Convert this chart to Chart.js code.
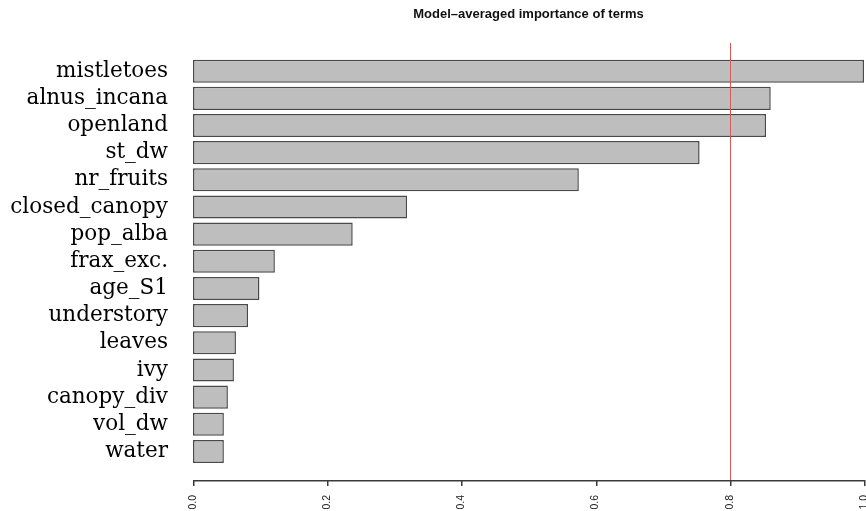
<!DOCTYPE html>
<html>
<head>
<meta charset="utf-8">
<script src="https://cdn.jsdelivr.net/npm/chart.js@4/dist/chart.umd.min.js"></script>
<style>
  html, body { margin: 0; padding: 0; background: #fff; }
  #wrap { width: 866px; height: 511px; }
</style>
</head>
<body>
<div id="wrap"><canvas id="bar-chart"></canvas></div>
<script>
// terms and their model-averaged importance
const terms = ['mistletoes', 'alnus_incana', 'openland', 'st_dw', 'nr_fruits', 'closed_canopy',
    'pop_alba', 'frax_exc.', 'age_S1', 'understory', 'leaves', 'ivy', 'canopy_div', 'vol_dw', 'water'];
const importance = [1.0, 0.861, 0.854, 0.755, 0.575, 0.319, 0.238, 0.122, 0.099, 0.082,
    0.064, 0.061, 0.052, 0.046, 0.046];
const xTicks = [0, 0.2, 0.4, 0.6, 0.8, 1.0];
const threshold = 0.8;

// R style axis set apart below the bars, plus the red cut-off line
const overlay = {
    id: 'overlay',
    afterDraw: function (chart) {
        const ctx = chart.ctx;
        const x = chart.scales.x;
        const axisY = Math.round(chart.chartArea.bottom + 15);
        const x0 = Math.round(x.getPixelForValue(xTicks[0]));
        const x1 = Math.round(x.getPixelForValue(xTicks[xTicks.length - 1]));

        ctx.save();
        ctx.fillStyle = '#3a3a3a';
        // axis line
        ctx.fillRect(x0, axisY, x1 - x0 + 1, 1.5);
        // tick marks
        xTicks.forEach(function (t) {
            const px = Math.round(x.getPixelForValue(t));
            ctx.fillRect(px, axisY, 1.5, 6);
        });

        const rx = Math.round(x.getPixelForValue(threshold));
        ctx.fillStyle = 'rgb(215,90,90)';
        ctx.fillRect(rx, 43, 1, axisY - 43);
        ctx.restore();
    }
};

new Chart(document.getElementById('bar-chart'), {
    type: 'bar',
    data: {
        labels: terms,
        datasets: [{
            data: importance,
            backgroundColor: '#bebebe',
            borderColor: '#4a4a4a',
            borderWidth: 1.5,
            borderSkipped: false,
            barPercentage: 0.85,
            categoryPercentage: 1
        }]
    },
    options: {
        indexAxis: 'y',
        responsive: true,
        maintainAspectRatio: false,
        animation: false,
        layout: { padding: { left: 0, right: 2, top: 0, bottom: 0 } },
        plugins: {
            legend: { display: false },
            tooltip: { enabled: false },
            title: {
                display: true,
                fullSize: false,
                text: 'Model–averaged importance of terms',
                color: '#111',
                font: { family: 'Liberation Sans', size: 13, weight: 'bold' },
                padding: { top: 7, bottom: 35 }
            }
        },
        scales: {
            x: {
                min: 0,
                max: 1,
                afterBuildTicks: function (s) {
                    s.ticks = xTicks.map(function (v) { return { value: v }; });
                },
                afterFit: function (s) {
                    s.height = 46;
                    s.paddingLeft = 0;
                    s.paddingRight = 0;
                },
                grid: { display: false, drawTicks: false },
                border: { display: false },
                ticks: {
                    minRotation: 90,
                    maxRotation: 90,
                    padding: 30,
                    autoSkip: false,
                    color: '#222',
                    font: { family: 'Liberation Sans', size: 10.5 },
                    callback: function (v) { return Number(v).toFixed(1); }
                }
            },
            y: {
                afterFit: function (s) { s.width = 193; },
                grid: { display: false, drawTicks: false },
                border: { display: false },
                ticks: {
                    autoSkip: false,
                    padding: 25,
                    color: '#000',
                    font: { family: 'DejaVu Serif', size: 21.5 }
                }
            }
        }
    },
    plugins: [overlay]
});
</script>
</body>
</html>
